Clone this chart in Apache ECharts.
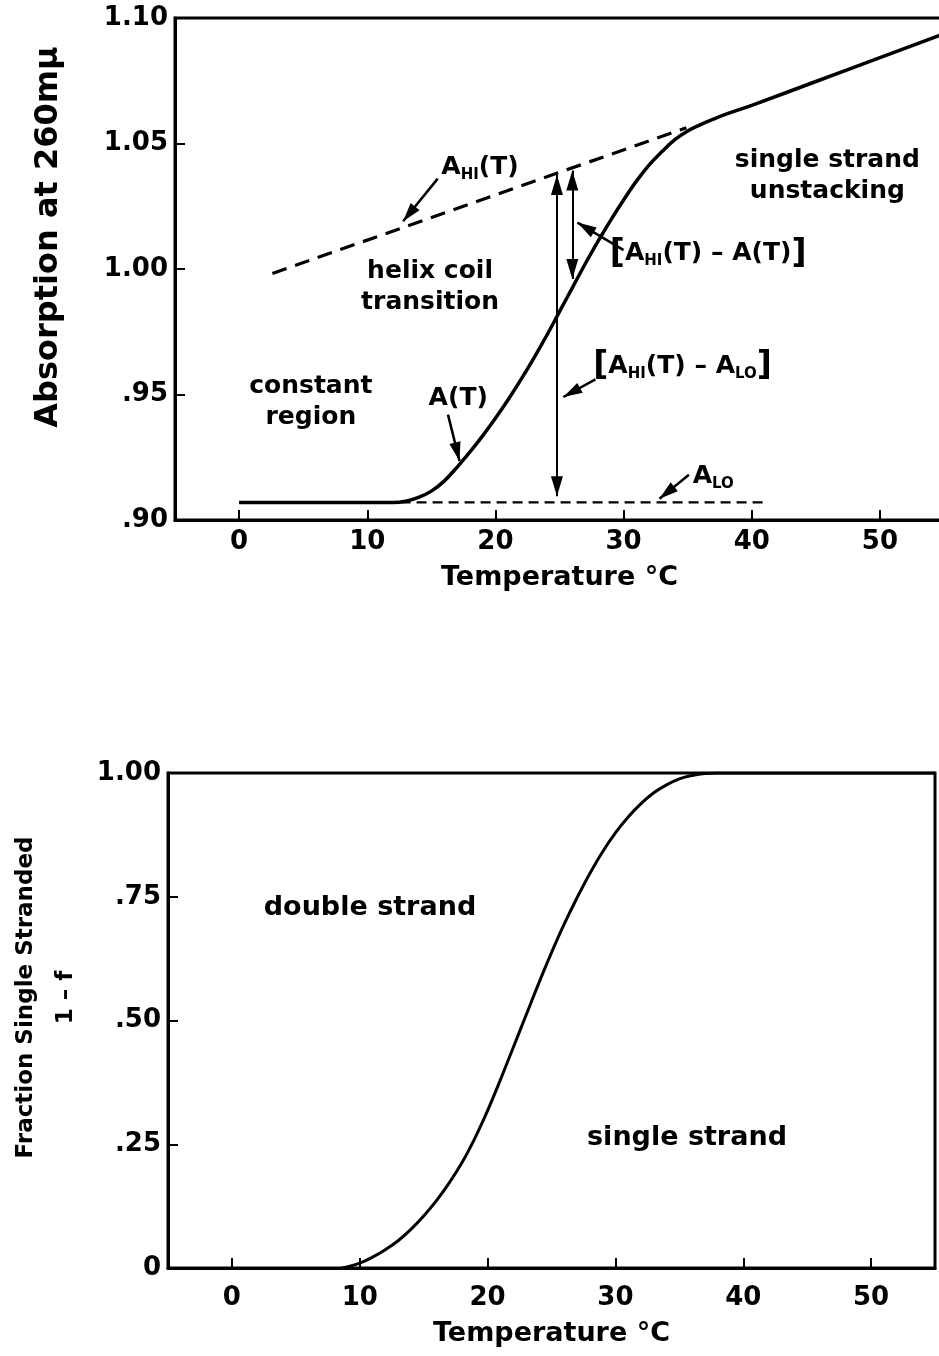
<!DOCTYPE html>
<html><head><meta charset="utf-8">
<script src="https://cdn.jsdelivr.net/npm/echarts@6/dist/echarts.min.js"></script>
<style>html,body{margin:0;padding:0;background:#fff}#c{width:939px;height:1356px}</style>
</head><body><div id="c"></div>
<script>
// ---------- data: axes ----------
var xTicks = [0, 10, 20, 30, 40, 50];
var xTickLabels = ['0', '10', '20', '30', '40', '50'];
var yTicksTop = [0.90, 0.95, 1.00, 1.05, 1.10];
var yTickLabelsTop = ['.90', '.95', '1.00', '1.05', '1.10'];
var yTicksBottom = [0, 0.25, 0.50, 0.75, 1.00];
var yTickLabelsBottom = ['0', '.25', '.50', '.75', '1.00'];

// ---------- data: top chart (absorption) ----------
// A(T) measured absorption curve
var aT =   [0, 12.0, 13.0, 14.0, 15.0, 16.0, 17.0, 18.0, 19.0, 20.0, 21.0, 22.0, 23.0, 24.0, 25.0, 26.0, 27.0, 28.0, 29.0, 30.0, 31.0, 32.0, 33.0, 34.0, 35.0, 36.0, 37.0, 38.0, 40.0, 45.0, 50.0, 55.0];
var aVal = [0.907, 0.907, 0.9075, 0.9090, 0.9115, 0.9155, 0.9210, 0.9270, 0.9335, 0.9405, 0.9480, 0.9560, 0.9645, 0.9735, 0.9830, 0.9925, 1.0020, 1.0110, 1.0195, 1.0275, 1.0350, 1.0415, 1.0468, 1.0515, 1.0550, 1.0575, 1.0597, 1.0617, 1.0652, 1.0747, 1.0842, 1.0937];
// A_HI(T) extrapolated high-temperature line (dashed)
var aHiT = [2.6, 34.9];
var aHiVal = [0.9982, 1.0563];
// A_LO constant low-temperature line (dashed)
var aLoT = [12.6, 41.1];
var aLoVal = [0.907, 0.907];

// double-headed vertical arrows: [T, top, bottom]
var dblArrowT = [24.8, 26.0];
var dblArrowTop = [1.0375, 1.0392];
var dblArrowBottom = [0.9095, 0.9960];
// pointer arrows: from (T,A) to (T,A)
var ptrFromT = [15.5, 30.0, 27.8, 16.3, 35.1];
var ptrFromA = [1.0360, 1.0075, 0.9560, 0.9420, 0.9180];
var ptrToT =   [12.8, 26.4, 25.3, 17.2, 32.8];
var ptrToA =   [1.0190, 1.0185, 0.9490, 0.9235, 0.9085];

// top annotations
var annTopT = [18.8, 14.9, 45.9, 5.6, 17.1, 36.6, 34.6, 37.0];
var annTopA = [1.0405, 0.9930, 1.0372, 0.9470, 0.9484, 1.0060, 0.9610, 0.9172];
var annTopText = [
  '{t|A}{s|HI}{t|(T)}',
  'helix coil\ntransition',
  'single strand\nunstacking',
  'constant\nregion',
  'A(T)',
  '{b|[}{t|A}{s|HI}{t|(T) \u2013 A(T)}{b|]}',
  '{b|[}{t|A}{s|HI}{t|(T) \u2013 A}{s|LO}{b|]}',
  '{t|A}{s|LO}'
];

// ---------- data: bottom chart (fraction single stranded) ----------
var fT =   [8.6, 10, 11, 12, 13, 14, 15, 16, 17, 18, 19, 20, 21, 22, 23, 24, 25, 26, 27, 28, 29, 30, 31, 32, 33, 34, 35, 36, 37, 38, 39, 55];
var fVal = [0, 0.010, 0.022, 0.037, 0.055, 0.078, 0.105, 0.136, 0.172, 0.213, 0.262, 0.318, 0.380, 0.445, 0.510, 0.575, 0.637, 0.695, 0.748, 0.797, 0.841, 0.879, 0.911, 0.938, 0.960, 0.976, 0.988, 0.995, 0.999, 1.0, 1.0, 1.0];
var annBotT = [10.8, 35.6];
var annBotF = [0.727, 0.263];
var annBotText = ['double strand', 'single strand'];

// ---------- build ----------
var FONT = '"DejaVu Sans", "Liberation Sans", sans-serif';
var ARROW = 'path://M0,0 M40,40 M20,20 L26,40 L14,40 Z';
function zip(a, b) { return a.map(function (v, i) { return [v, b[i]]; }); }
function lookup(ticks, labels) {
  return function (v) {
    for (var i = 0; i < ticks.length; i++) if (Math.abs(ticks[i] - v) < 1e-6) return labels[i];
    return '';
  };
}
var richStyles = {
  t: { fontSize: 25, fontWeight: 'bold', fontFamily: FONT, color: '#000', lineHeight: 30, verticalAlign: 'middle' },
  s: { fontSize: 15, fontWeight: 'bold', fontFamily: FONT, color: '#000', lineHeight: 14, verticalAlign: 'bottom' },
  b: { fontSize: 33, fontFamily: FONT, color: '#000', lineHeight: 30, verticalAlign: 'middle' }
};
function xAxisCfg(gi, margin, gap) {
  return {
    type: 'value', gridIndex: gi, min: -5, max: 55,
    name: 'Temperature \u00b0C', nameLocation: 'middle', nameGap: gap,
    nameTextStyle: { fontSize: 27, fontWeight: 'bold', fontFamily: FONT, color: '#000' },
    axisLine: { show: true, onZero: false, lineStyle: { color: '#000', width: 3 } },
    axisTick: { show: true, inside: true, length: 10, customValues: xTicks, lineStyle: { color: '#000', width: 2 } },
    axisLabel: { show: true, margin: margin, customValues: xTicks, formatter: lookup(xTicks, xTickLabels), fontSize: 26, fontWeight: 'bold', fontFamily: FONT, color: '#000' },
    splitLine: { show: false }
  };
}
function yAxisCfg(gi, min, max, ticks, labels, name, gap, pad, nameSize) {
  return {
    type: 'value', gridIndex: gi, min: min, max: max,
    name: name, nameLocation: 'middle', nameGap: gap,
    nameTextStyle: { fontSize: nameSize, fontWeight: 'bold', fontFamily: FONT, color: '#000', lineHeight: 40, padding: [0, 0, 0, pad] },
    axisLine: { show: true, onZero: false, lineStyle: { color: '#000', width: 3 } },
    axisTick: { show: true, inside: true, length: 10, customValues: ticks, lineStyle: { color: '#000', width: 2 } },
    axisLabel: { show: true, margin: 7, customValues: ticks, formatter: lookup(ticks, labels), fontSize: 26, fontWeight: 'bold', fontFamily: FONT, color: '#000' },
    splitLine: { show: false }
  };
}

var dblArrows = dblArrowT.map(function (t, i) { return { coords: [[t, dblArrowTop[i]], [t, dblArrowBottom[i]]] }; });
var ptrArrows = ptrFromT.map(function (t, i) { return { coords: [[t, ptrFromA[i]], [ptrToT[i], ptrToA[i]]] }; });

var option = {
  backgroundColor: '#fff',
  animation: false,
  grid: [
    { left: 175, width: 769, top: 18, height: 502, outerBoundsMode: 'none', containLabel: false, show: true, borderColor: '#000', borderWidth: 3 },
    { left: 168, width: 767, top: 773, height: 495, outerBoundsMode: 'none', containLabel: false, show: true, borderColor: '#000', borderWidth: 3 }
  ],
  xAxis: [xAxisCfg(0, 9, 44), xAxisCfg(1, 17, 52)],
  yAxis: [
    yAxisCfg(0, 0.90, 1.10, yTicksTop, yTickLabelsTop, 'Absorption at 260m\u03bc', 106, 64, 32),
    yAxisCfg(1, 0, 1, yTicksBottom, yTickLabelsBottom, 'Fraction Single Stranded\n1 \u2013 f', 78, 46, 23)
  ],
  series: [
    { name: 'A(T)', type: 'line', xAxisIndex: 0, yAxisIndex: 0, data: zip(aT, aVal), showSymbol: false, smooth: 0.4,
      lineStyle: { color: '#000', width: 3.5 }, z: 5 },
    { name: 'A_HI(T)', type: 'line', xAxisIndex: 0, yAxisIndex: 0, data: zip(aHiT, aHiVal), showSymbol: false,
      lineStyle: { color: '#000', width: 3.2, type: [15, 9] } },
    { name: 'A_LO', type: 'line', xAxisIndex: 0, yAxisIndex: 0, data: zip(aLoT, aLoVal), showSymbol: false,
      lineStyle: { color: '#000', width: 2.3, type: [10, 6] } },
    { type: 'lines', coordinateSystem: 'cartesian2d', xAxisIndex: 0, yAxisIndex: 0, data: dblArrows,
      symbol: [ARROW, ARROW], symbolSize: 40, lineStyle: { color: '#000', width: 2, opacity: 1 }, silent: true },
    { type: 'lines', coordinateSystem: 'cartesian2d', xAxisIndex: 0, yAxisIndex: 0, data: ptrArrows,
      symbol: ['none', ARROW], symbolSize: 38, lineStyle: { color: '#000', width: 2.5, opacity: 1 }, silent: true },
    { type: 'scatter', xAxisIndex: 0, yAxisIndex: 0, symbolSize: 0, silent: true, itemStyle: { opacity: 1 },
      data: annTopT.map(function (t, i) { return [t, annTopA[i], annTopText[i]]; }),
      label: { show: true, position: 'inside', opacity: 1, formatter: function (p) { return p.data[2]; },
        fontSize: 25, fontWeight: 'bold', fontFamily: FONT, color: '#000', lineHeight: 31, align: 'center', rich: richStyles } },
    { name: '1-f', type: 'line', xAxisIndex: 1, yAxisIndex: 1, data: zip(fT, fVal), showSymbol: false, smooth: 0.4,
      lineStyle: { color: '#000', width: 3 } },
    { type: 'scatter', xAxisIndex: 1, yAxisIndex: 1, symbolSize: 0, silent: true, itemStyle: { opacity: 1 },
      data: annBotT.map(function (t, i) { return [t, annBotF[i], annBotText[i]]; }),
      label: { show: true, position: 'inside', opacity: 1, formatter: function (p) { return p.data[2]; },
        fontSize: 27, fontWeight: 'bold', fontFamily: FONT, color: '#000' } }
  ]
};
var chart = echarts.init(document.getElementById('c'), null, { renderer: 'canvas' });
chart.setOption(option);
</script></body></html>
